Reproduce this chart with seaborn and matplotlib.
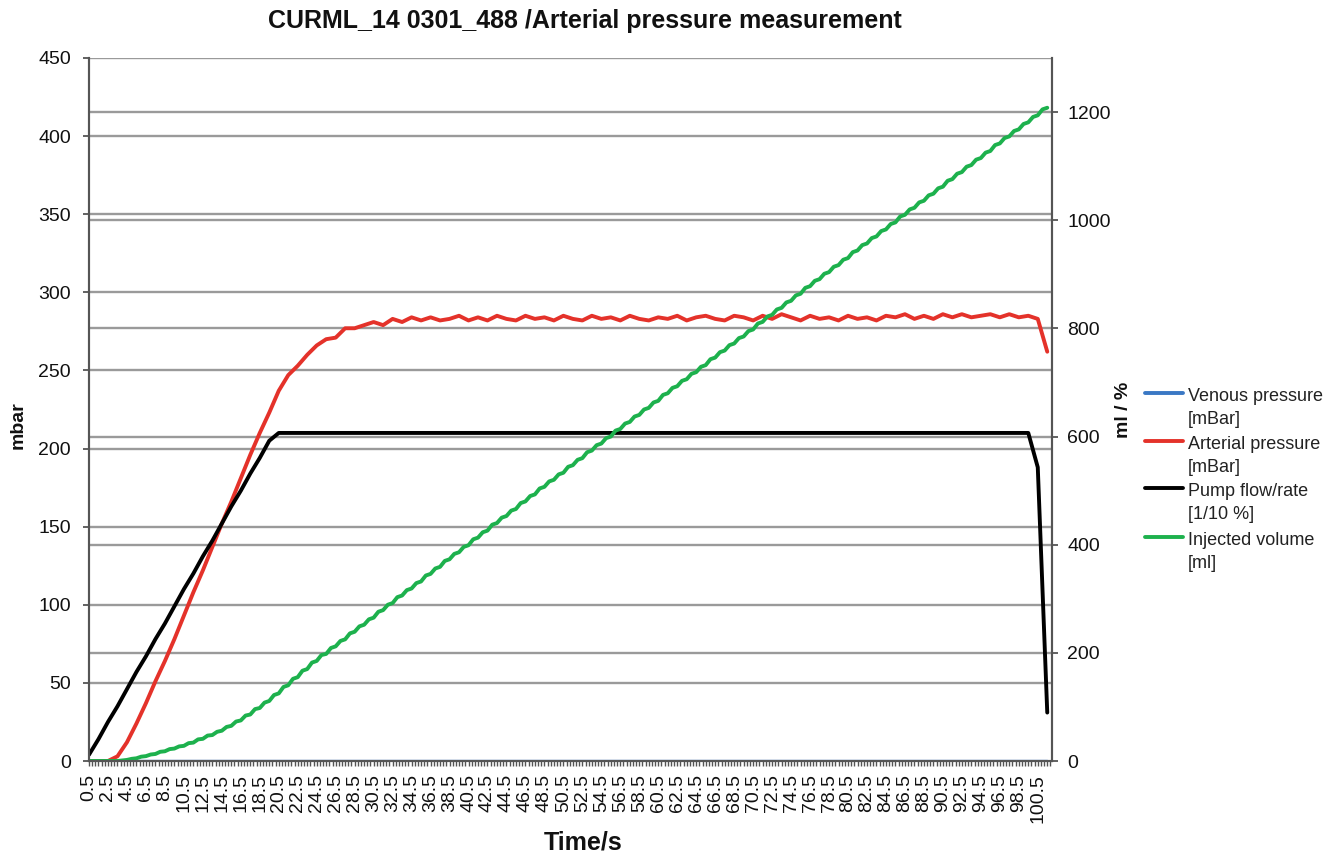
import numpy as np
import pandas as pd
import seaborn as sns
import matplotlib.pyplot as plt
from matplotlib.lines import Line2D
from matplotlib.ticker import FixedLocator

# time axis (s): pressures / pump sampled every 1 s, injected volume every 0.5 s
time_s = np.arange(0.5, 102.0, 1.0)
time_half = np.arange(0.5, 101.75, 0.5)

# arterial pressure [mBar], left axis
arterial = [
    0, 0, 0, 3, 12, 24, 37, 51, 64, 78,
    93, 108, 122, 137, 152, 166, 181, 196, 210, 223,
    237, 247, 253, 260, 266, 270, 271, 277, 277, 279,
    281, 279, 283, 281, 284, 282, 284, 282, 283, 285,
    282, 284, 282, 285, 283, 282, 285, 283, 284, 282,
    285, 283, 282, 285, 283, 284, 282, 285, 283, 282,
    284, 283, 285, 282, 284, 285, 283, 282, 285, 284,
    282, 285, 283, 286, 284, 282, 285, 283, 284, 282,
    285, 283, 284, 282, 285, 284, 286, 283, 285, 283,
    286, 284, 286, 284, 285, 286, 284, 286, 284, 285,
    283, 262]

# pump flow/rate [1/10 %]
pump = [
    4, 14, 25, 35, 46, 57, 67, 78, 88, 99,
    110, 120, 131, 141, 152, 163, 173, 184, 194, 205,
    210, 210, 210, 210, 210, 210, 210, 210, 210, 210,
    210, 210, 210, 210, 210, 210, 210, 210, 210, 210,
    210, 210, 210, 210, 210, 210, 210, 210, 210, 210,
    210, 210, 210, 210, 210, 210, 210, 210, 210, 210,
    210, 210, 210, 210, 210, 210, 210, 210, 210, 210,
    210, 210, 210, 210, 210, 210, 210, 210, 210, 210,
    210, 210, 210, 210, 210, 210, 210, 210, 210, 210,
    210, 210, 210, 210, 210, 210, 210, 210, 210, 210,
    188, 31]

# venous pressure [mBar]
venous = [0] * 102

# injected volume [ml], right axis
injected = [
    0, 0, 0, 0, 0, 0, 0, 1, 2, 4,
    5, 8, 9, 12, 13, 17, 18, 22, 23, 27,
    28, 33, 34, 40, 41, 47, 48, 54, 56, 63,
    65, 73, 75, 84, 86, 96, 98, 108, 111, 122,
    125, 137, 140, 152, 155, 167, 170, 182, 185, 196,
    198, 209, 212, 222, 225, 236, 239, 249, 252, 262,
    265, 276, 279, 289, 292, 303, 306, 316, 319, 329,
    332, 343, 346, 356, 359, 370, 373, 383, 386, 396,
    399, 410, 413, 423, 426, 437, 440, 450, 453, 463,
    466, 477, 480, 490, 493, 504, 507, 517, 520, 530,
    533, 544, 547, 557, 560, 571, 574, 584, 587, 597,
    600, 611, 614, 624, 627, 637, 640, 650, 653, 663,
    666, 677, 680, 690, 693, 703, 706, 716, 719, 729,
    732, 743, 746, 756, 759, 769, 772, 782, 785, 795,
    798, 809, 812, 822, 825, 835, 838, 848, 851, 861,
    864, 875, 878, 888, 891, 901, 904, 914, 917, 927,
    930, 941, 944, 954, 957, 967, 970, 980, 983, 993,
    996, 1007, 1010, 1020, 1023, 1033, 1036, 1046, 1049, 1059,
    1062, 1073, 1076, 1086, 1089, 1099, 1102, 1112, 1115, 1125,
    1128, 1139, 1142, 1152, 1155, 1165, 1168, 1178, 1181, 1191,
    1194, 1205, 1208]

legend_labels = ["Venous pressure\n[mBar]", "Arterial pressure\n[mBar]",
                 "Pump flow/rate\n[1/10 %]", "Injected volume\n[ml]"]
colors = ["#3a78c4", "#e4322a", "#000000", "#1db14d"]

sns.set_theme(style="white")
plt.rcParams["font.family"] = ["Liberation Sans", "DejaVu Sans"]

W, H = 1340, 857
fig = plt.figure(figsize=(W / 100, H / 100), dpi=100)
ax = fig.add_axes([89 / W, 1 - 761 / H, (1052 - 89) / W, (761 - 58) / H])
ax2 = ax.twinx()

df = pd.DataFrame({"time": time_s, "venous": venous, "arterial": arterial, "pump": pump})
inj = pd.DataFrame({"time": time_half, "volume": injected})

lw = 2.8
sns.lineplot(data=df, x="time", y="venous", ax=ax, color=colors[0], lw=2.4, zorder=3)
sns.lineplot(data=df, x="time", y="arterial", ax=ax, color=colors[1], lw=lw, zorder=4)
sns.lineplot(data=df, x="time", y="pump", ax=ax, color=colors[2], lw=lw, zorder=5)
sns.lineplot(data=inj, x="time", y="volume", ax=ax2, color=colors[3], lw=lw)

ymax_l, ymax_r = 450, 1300
ax.set_xlim(0.5, 102.0)
ax.set_ylim(0, ymax_l)
ax2.set_ylim(0, ymax_r)

# gridlines of both axes, drawn below the lines
grid_c = "#9a9a9a"
ax.set_yticks(np.arange(0, ymax_l + 1, 50))
ax.grid(False)
ax2.grid(False)
for v in np.arange(50, ymax_l + 1, 50):
    ax.axhline(v, color=grid_c, lw=1.7, zorder=1)
for r in np.arange(200, 1201, 200):
    ax.axhline(r * ymax_l / ymax_r, color=grid_c, lw=1.7, zorder=1)
ax2.set_yticks(np.arange(0, 1201, 200))

xt = np.arange(0.5, 101, 2)
ax.set_xticks(xt)
ax.set_xticklabels([f"{v:.1f}" for v in xt], rotation=90)
ax.xaxis.set_minor_locator(FixedLocator(np.arange(0.5, 102.01, 1 / 3)))

spine_c = "#555555"
for a in (ax, ax2):
    a.spines["top"].set_visible(False)
    for s in ("left", "right", "bottom"):
        a.spines[s].set_color(spine_c)
        a.spines[s].set_linewidth(1.5)
    a.set_xlabel("")
    a.set_ylabel("")
ax.tick_params(axis="y", left=True, direction="out", length=4, width=1.3,
               color=spine_c, labelsize=14, pad=9, labelcolor="#111111")
ax2.tick_params(axis="y", right=True, direction="out", length=4, width=1.3,
                color=spine_c, labelsize=14, pad=7, labelcolor="#111111")
ax.tick_params(axis="x", which="both", bottom=True, direction="out", length=3.5,
               width=1.0, color=spine_c, labelsize=14, pad=6, labelcolor="#111111")

fig.text(585 / W, 1 - 21 / H, "CURML_14 0301_488 /Arterial pressure measurement",
         ha="center", va="center", fontsize=18, fontweight="bold", color="#111111")
fig.text(583 / W, 1 - 843 / H, "Time/s", ha="center", va="center",
         fontsize=18, fontweight="bold", color="#111111")
fig.text(18 / W, 1 - 425 / H, "mbar", ha="center", va="center", rotation=90,
         fontsize=14, fontweight="bold", color="#111111")
fig.text(1123 / W, 1 - 410 / H, "ml / %", ha="center", va="center", rotation=90,
         fontsize=14, fontweight="bold", color="#111111")

# legend: handle at the first text line of each entry
for label, c, y in zip(legend_labels, colors, [393, 441, 488, 537]):
    fig.add_artist(Line2D([1145 / W, 1183 / W], [1 - y / H, 1 - y / H],
                          transform=fig.transFigure, color=c, lw=2.8))
    fig.text(1188 / W, 1 - (y - 5) / H, label, ha="left", va="top",
             fontsize=13, linespacing=1.45, color="#222222")

fig.savefig("out.png", dpi=100)
